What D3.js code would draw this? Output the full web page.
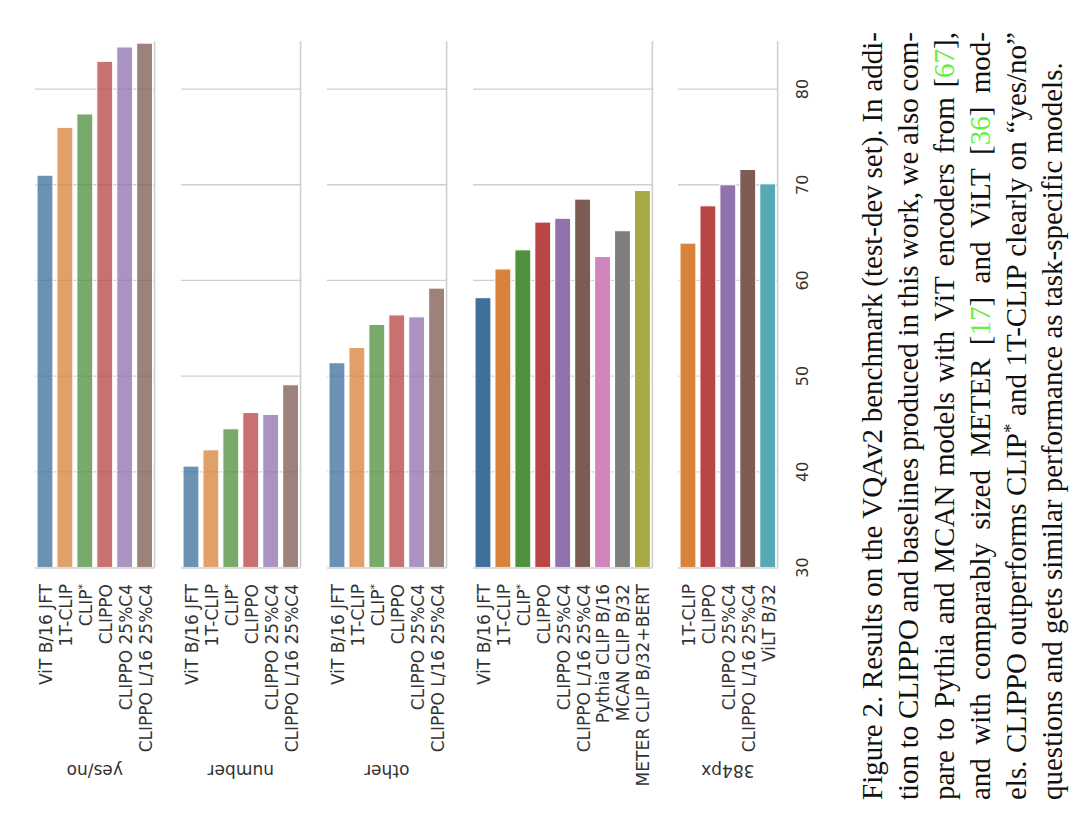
<!DOCTYPE html>
<html>
<head>
<meta charset="utf-8">
<script src="https://cdn.jsdelivr.net/npm/d3@7"></script>
<style>
  html, body { margin: 0; padding: 0; background: #fff; }
  svg { display: block; }
</style>
</head>
<body>
<div id="chart"></div>
<script>
// VQAv2 test-dev results, drawn in the rotated page orientation of the reference.
var baseModels = ["ViT B/16 JFT", "1T-CLIP", "CLIP*", "CLIPPO", "CLIPPO 25%C4", "CLIPPO L/16 25%C4"];
var yesNoValues = [71.0, 76.0, 77.4, 82.9, 84.4, 84.8];
var numberValues = [40.6, 42.3, 44.5, 46.2, 46.0, 49.1];
var otherValues = [51.4, 53.0, 55.4, 56.4, 56.2, 59.2];
var overallModels = ["ViT B/16 JFT", "1T-CLIP", "CLIP*", "CLIPPO", "CLIPPO 25%C4", "CLIPPO L/16 25%C4",
  "Pythia CLIP B/16", "MCAN CLIP B/32", "METER CLIP B/32+BERT"];
var overallValues = [58.2, 61.2, 63.2, 66.1, 66.5, 68.5, 62.5, 65.2, 69.4];
var px384Models = ["1T-CLIP", "CLIPPO", "CLIPPO 25%C4", "CLIPPO L/16 25%C4", "ViLT B/32"];
var px384Values = [63.9, 67.8, 70.0, 71.6, 70.1];
var panelTitles = ["yes/no", "number", "other", "", "384px"];
var valueTicks = [30, 40, 50, 60, 70, 80];
var gridTicks = [40, 50, 60, 70, 80];
var modelColors = {
  "ViT B/16 JFT": "#3f709c", "1T-CLIP": "#d8823c", "CLIP*": "#4f913f", "CLIPPO": "#b94545",
  "CLIPPO 25%C4": "#9073ae", "CLIPPO L/16 25%C4": "#7f5c53", "Pythia CLIP B/16": "#d086bc",
  "MCAN CLIP B/32": "#7f7f7f", "METER CLIP B/32+BERT": "#a9aa46", "ViLT B/32": "#55aab6"
};
var captionLines = [
  [["Figure"], ["2."], ["Results"], ["on"], ["the"], ["VQAv2"], ["benchmark"], ["(test-dev"], ["set)."], ["In"], ["addi-"]],
  [["tion"], ["to"], ["CLIPPO"], ["and"], ["baselines"], ["produced"], ["in"], ["this"], ["work,"], ["we"], ["also"], ["com-"]],
  [["pare"], ["to"], ["Pythia"], ["and"], ["MCAN"], ["models"], ["with"], ["ViT"], ["encoders"], ["from"], ["[", "g:67", "],"]],
  [["and"], ["with"], ["comparably"], ["sized"], ["METER"], ["[", "g:17", "]"], ["and"], ["ViLT"], ["[", "g:36", "]"], ["mod-"]],
  [["els."], ["CLIPPO"], ["outperforms"], ["CLIP", "s:*"], ["and"], ["1T-CLIP"], ["clearly"], ["on"], ["\u201cyes/no\u201d"]],
  [["questions"], ["and"], ["gets"], ["similar"], ["performance"], ["as"], ["task-specific"], ["models."]]
];

var panels = [
  { models: baseModels, values: yesNoValues, x0: 35, alpha: 0.77 },
  { models: baseModels, values: numberValues, x0: 181, alpha: 0.77 },
  { models: baseModels, values: otherValues, x0: 327, alpha: 0.77 },
  { models: overallModels, values: overallValues, x0: 473, alpha: 1 },
  { models: px384Models, values: px384Values, x0: 678, alpha: 1 }
];
panels.forEach(function (p, i) { p.title = panelTitles[i]; });

var W = 1080, H = 835, STEP = 19.93;
var GRID = "#cfcfcf", TEXT = "#333333", SANS = "DejaVu Sans, sans-serif";
var y = d3.scaleLinear().domain([30, 85]).range([567.5, 41.2]);

var svg = d3.select("#chart").append("svg").attr("width", W).attr("height", H);

function label(sel, name, size) {
  if (name.slice(-1) === "*") {
    sel.text(name.slice(0, -1));
    sel.append("tspan").attr("font-size", size * 0.65).attr("dy", "-0.55em").text("*");
  } else sel.text(name);
}

panels.forEach(function (p) {
  var x1 = p.x0 + p.models.length * STEP;
  var x = d3.scaleBand().domain(p.models).range([p.x0, x1]).paddingInner(0.2).paddingOuter(0.1);
  var g = svg.append("g");

  g.selectAll("line.grid").data(gridTicks).enter().append("line")
    .attr("x1", p.x0).attr("x2", x1).attr("y1", function (d) { return y(d); }).attr("y2", function (d) { return y(d); })
    .attr("stroke", GRID).attr("stroke-width", 1.3);

  g.selectAll("rect").data(p.models).enter().append("rect")
    .attr("x", function (d) { return x(d); }).attr("width", x.bandwidth())
    .attr("y", function (d, i) { return y(p.values[i]); })
    .attr("height", function (d, i) { return y(30) - y(p.values[i]); })
    .attr("fill", function (d) { return modelColors[d]; }).attr("fill-opacity", p.alpha)
    .attr("stroke", "#fff").attr("stroke-width", 1.1);

  // spines: right and bottom
  g.append("line").attr("x1", x1).attr("x2", x1).attr("y1", y(85)).attr("y2", y(30))
    .attr("stroke", GRID).attr("stroke-width", 1.6);
  g.append("line").attr("x1", p.x0).attr("x2", x1).attr("y1", y(30) + 0.5).attr("y2", y(30) + 0.5)
    .attr("stroke", GRID).attr("stroke-width", 1.6);

  p.models.forEach(function (m) {
    var cx = x(m) + x.bandwidth() / 2 + 1;
    var t = g.append("text").attr("transform", "translate(" + cx + ",584) rotate(-90)")
      .attr("text-anchor", "end").attr("dy", "0.35em")
      .attr("font-family", SANS).attr("font-size", 17).attr("fill", TEXT);
    label(t, m, 17);
  });

  if (p.title) {
    g.append("text").attr("transform", "translate(" + ((p.x0 + x1) / 2) + ",771) rotate(180)")
      .attr("text-anchor", "middle").attr("dy", "0.35em")
      .attr("font-family", SANS).attr("font-size", 17).attr("fill", TEXT).text(p.title);
  }
});

// value axis on the right
valueTicks.forEach(function (t) {
  svg.append("text").attr("transform", "translate(802," + y(t) + ") rotate(-90)")
    .attr("text-anchor", "middle").attr("dy", "0.35em")
    .attr("font-family", SANS).attr("font-size", 16).attr("fill", TEXT).text(t);
});

// caption, rotated and justified
var CAP = { size: 29, x0: 882, dx: 36, start: 800, len: 768, font: "Liberation Serif, Times New Roman, serif" };
captionLines.forEach(function (words, li) {
  var lg = svg.append("g").attr("transform", "translate(" + (CAP.x0 + li * CAP.dx) + "," + CAP.start + ") rotate(-90)");
  var nodes = words.map(function (w) {
    var t = lg.append("text").attr("font-family", CAP.font).attr("font-size", CAP.size).attr("fill", "#111");
    w.forEach(function (seg) {
      if (seg.indexOf("g:") === 0) t.append("tspan").attr("fill", "#66ee44").text(seg.slice(2));
      else if (seg.indexOf("s:") === 0) t.append("tspan").attr("font-size", CAP.size * 0.65).attr("dy", "-0.5em").text(seg.slice(2));
      else t.append("tspan").text(seg);
    });
    return t;
  });
  var widths = nodes.map(function (t) { return t.node().getComputedTextLength(); });
  var total = d3.sum(widths);
  var last = li === captionLines.length - 1;
  var gap = last ? CAP.size * 0.25 : (CAP.len - total) / (nodes.length - 1);
  var pos = 0;
  nodes.forEach(function (t, i) { t.attr("x", pos); pos += widths[i] + gap; });
});
</script>
</body>
</html>
